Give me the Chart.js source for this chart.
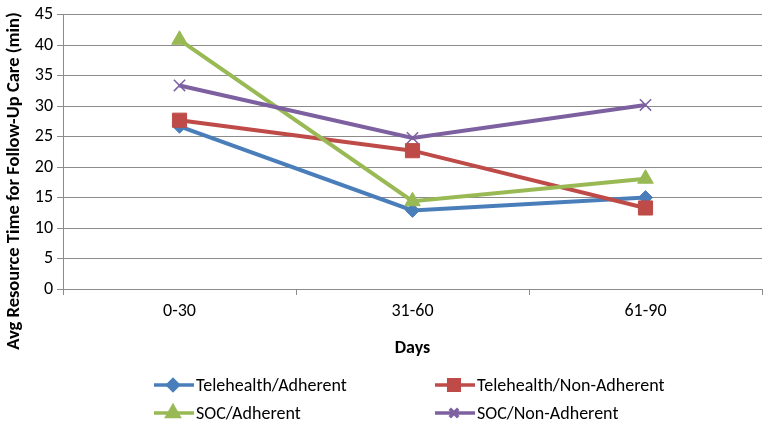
<!DOCTYPE html>
<html>
<head>
<meta charset="utf-8">
<script src="https://cdn.jsdelivr.net/npm/chart.js@4/dist/chart.umd.min.js"></script>
<style>
  html, body { margin: 0; padding: 0; background: #fff; }
  #wrap { width: 780px; height: 428px; }
</style>
</head>
<body>
<div id="wrap"><canvas id="grafico" width="780" height="428"></canvas></div>
<script>
const categorias = ["0-30", "31-60", "61-90"];
const teleAdherent = [26.7, 12.9, 15.0];
const teleNonAdherent = [27.7, 22.7, 13.3];
const socAdherent = [40.9, 14.4, 18.1];
const socNonAdherent = [33.4, 24.8, 30.2];
const nomesSeries = ["Telehealth/Adherent", "Telehealth/Non-Adherent", "SOC/Adherent", "SOC/Non-Adherent"];
const yTicks = [0, 5, 10, 15, 20, 25, 30, 35, 40, 45];
const tituloY = "Avg Resource Time for Follow-Up Care (min)";
const tituloX = "Days";

const fonte = "Carlito, 'Open Sans', 'Noto Sans', sans-serif";
const cinza = "#8c8c8c";

const series = [
    { label: nomesSeries[0], data: teleAdherent, color: "#4a7ebb", style: "rectRot", radius: 7, order: 4 },
    { label: nomesSeries[1], data: teleNonAdherent, color: "#be4b48", style: "rect", radius: 10, order: 3 },
    { label: nomesSeries[2], data: socAdherent, color: "#98b954", style: "triangle", radius: 9, order: 2 },
    { label: nomesSeries[3], data: socNonAdherent, color: "#7d60a0", style: "crossRot", radius: 8, order: 1 },
];

// legenda em grade 2x2 + titulo do eixo y (centrado mais abaixo, como no Excel)
const extras = {
    id: "extras",
    afterDraw(chart) {
        const ctx = chart.ctx;
        const colunas = [154, 435];
        const linhas = [385, 413];
        ctx.save();
        series.forEach((s, i) => {
            const x = colunas[i % 2];
            const y = linhas[Math.floor(i / 2)];
            ctx.strokeStyle = s.color;
            ctx.lineWidth = 3.5;
            ctx.beginPath();
            ctx.moveTo(x, y);
            ctx.lineTo(x + 40, y);
            ctx.stroke();
            ctx.fillStyle = s.color;
            Chart.helpers.drawPoint(ctx, {
                pointStyle: s.style,
                radius: s.radius * 0.75,
                rotation: 0,
                borderWidth: s.style === "crossRot" ? 1.5 : 1,
            }, x + 19, y);
            ctx.fillStyle = "#000";
            ctx.font = "18px " + fonte;
            ctx.textBaseline = "middle";
            ctx.textAlign = "left";
            ctx.fillText(s.label, x + 42, y + 1);
        });

        ctx.translate(14, 181);
        ctx.rotate(-Math.PI / 2);
        ctx.fillStyle = "#000";
        ctx.font = "bold 18.5px " + fonte;
        ctx.textAlign = "center";
        ctx.textBaseline = "middle";
        ctx.fillText(tituloY, 0, 0);
        ctx.restore();
    },
};

const ctx = document.getElementById("grafico").getContext("2d");
new Chart(ctx, {
    type: "line",
    data: {
        labels: categorias,
        datasets: series.map((s) => ({
            label: s.label,
            data: s.data,
            borderColor: s.color,
            backgroundColor: s.color,
            borderWidth: 4,
            pointStyle: s.style,
            pointRadius: s.radius,
            pointBorderColor: s.color,
            pointBackgroundColor: s.color,
            pointBorderWidth: s.style === "crossRot" ? 1.5 : 1,
            tension: 0,
            order: s.order,
        })),
    },
    options: {
        responsive: false,
        animation: false,
        layout: { padding: { top: 10, right: 18, bottom: 69, left: 0 } },
        plugins: {
            legend: { display: false },
            tooltip: { enabled: false },
        },
        scales: {
            x: {
                offset: true,
                grid: {
                    offset: true,
                    drawOnChartArea: false,
                    drawTicks: true,
                    tickLength: 6,
                    tickColor: cinza,
                },
                border: { color: cinza, width: 1 },
                ticks: { color: "#000", font: { family: fonte, size: 18 }, padding: 6 },
                title: {
                    display: true,
                    text: tituloX,
                    color: "#000",
                    font: { family: fonte, size: 18, weight: "bold" },
                    padding: { top: 4, bottom: 0 },
                },
                afterFit(scale) { scale.height = 70; },
            },
            y: {
                min: 0,
                max: 45,
                afterBuildTicks(scale) { scale.ticks = yTicks.map((v) => ({ value: v })); },
                grid: { color: cinza, tickLength: 6, tickColor: cinza, lineWidth: 1 },
                border: { color: cinza, width: 1 },
                ticks: { color: "#000", font: { family: fonte, size: 18 }, padding: 4 },
                title: { display: false },
                afterFit(scale) { scale.width = 63; },
            },
        },
    },
    plugins: [extras],
});
</script>
</body>
</html>
